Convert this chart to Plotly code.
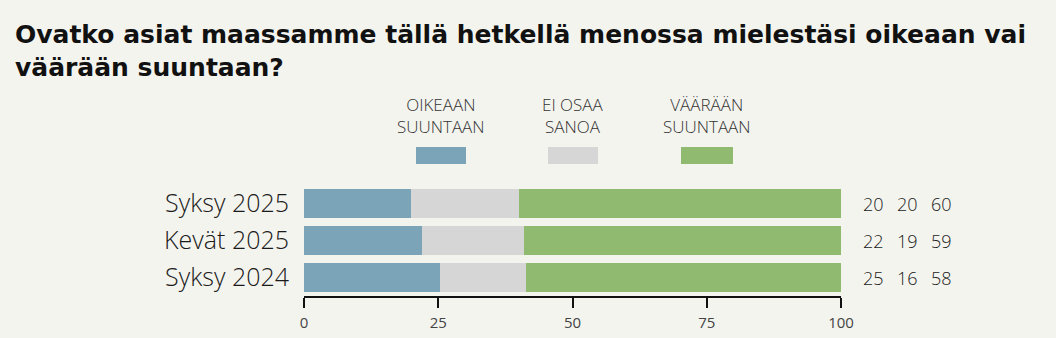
import plotly.graph_objects as go

categories = ["Syksy 2025", "Kevät 2025", "Syksy 2024"]
series_names = ["OIKEAAN<br>SUUNTAAN", "EI OSAA<br>SANOA", "VÄÄRÄÄN<br>SUUNTAAN"]
oikeaan = [20, 22, 25]
ei_osaa = [20, 19, 16]
vaaraan = [60, 59, 58]
colors = ["#7ba4b9", "#d6d6d6", "#8fba70"]
tick_vals = [0, 25, 50, 75, 100]
title_text = "Ovatko asiat maassamme tällä hetkellä menossa mielestäsi oikeaan vai<br>väärään suuntaan?"

series = [oikeaan, ei_osaa, vaaraan]
totals = [sum(v) for v in zip(*series)]

BG = "#f4f4ef"
FONT = "Open Sans"

# plot area in pixels: x 304..841, y 185..296
PX0, PW = 304, 537
PY_BOT, PH = 296, 111

def px_x(px):
    return (px - PX0) / PW

def px_y(py):
    return (PY_BOT - py) / PH

fig = go.Figure()
for name, vals, col in zip(series_names, series, colors):
    fig.add_trace(go.Bar(
        y=categories,
        x=[v / t * 100 for v, t in zip(vals, totals)],
        orientation="h",
        marker=dict(color=col, line=dict(width=0)),
        name=name,
        showlegend=False,
        hoverinfo="skip",
    ))

annotations = []
shapes = []
# value labels to the right of the bars
col_px = [873, 907, 941]
for ci, vals in enumerate(series):
    for cat, v in zip(categories, vals):
        annotations.append(dict(
            x=px_x(col_px[ci]), xref="paper", y=cat, yref="y",
            text=str(v), showarrow=False, xanchor="center", yanchor="middle",
            font=dict(family=FONT, size=18, color="#1a1a1a", weight=300),
        ))

# custom legend: labels above swatches
leg_cx = [441, 573, 707]
leg_w = [50, 50, 52]
for name, col, cx, w in zip(series_names, colors, leg_cx, leg_w):
    annotations.append(dict(
        x=px_x(cx), xref="paper", y=px_y(115), yref="paper",
        text=name, showarrow=False, xanchor="center", yanchor="middle",
        font=dict(family=FONT, size=17, color="#333333", weight=300),
    ))
    shapes.append(dict(
        type="rect", xref="paper", yref="paper",
        x0=px_x(cx - w / 2), x1=px_x(cx + w / 2),
        y0=px_y(164), y1=px_y(147),
        fillcolor=col, line=dict(width=0), layer="above",
    ))

# title
annotations.append(dict(
    x=px_x(13), xref="paper", y=px_y(18), yref="paper",
    text="<b>" + title_text + "</b>", showarrow=False,
    xanchor="left", yanchor="top", align="left",
    font=dict(family="DejaVu Sans", size=25, color="#111111"),
))

fig.update_layout(
    barmode="stack",
    bargap=0.24,
    width=1056, height=338,
    margin=dict(l=PX0, r=1056 - PX0 - PW, t=PY_BOT - PH, b=338 - PY_BOT, pad=0, autoexpand=False),
    paper_bgcolor=BG, plot_bgcolor=BG,
    xaxis=dict(
        range=[0, 100], tickvals=tick_vals, showgrid=False, zeroline=False,
        showline=True, linecolor="#111111", linewidth=1.5,
        ticks="outside", ticklen=10, tickcolor="#111111", tickwidth=1.5,
        tickfont=dict(family=FONT, size=15, color="#444444"),
        ticklabelstandoff=2, automargin=False,
        fixedrange=True,
    ),
    yaxis=dict(
        categoryorder="array", categoryarray=categories, autorange="reversed",
        showgrid=False, zeroline=False, showline=False, ticks="",
        tickfont=dict(family=FONT, size=25, color="#1a1a1a", weight=300),
        ticklabelstandoff=14, automargin=False,
    ),
    annotations=annotations,
    shapes=shapes,
)

fig.write_html("out.html")
